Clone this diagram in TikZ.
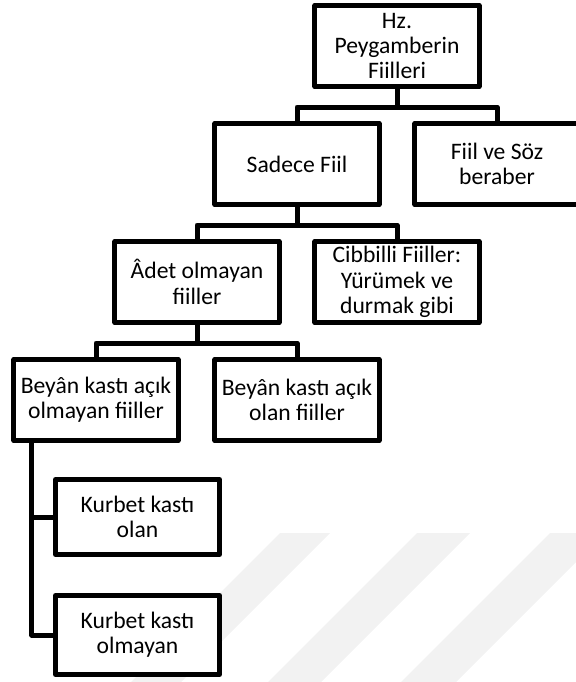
\documentclass[tikz,border=0pt]{standalone}
\usepackage{fontspec}
\setmainfont{Carlito}
\usetikzlibrary{positioning}

\begin{document}
\begin{tikzpicture}[x=0.025cm,y=-0.025cm,
  kutu/.style={draw,fill=white,line width=0.125cm,line join=round,minimum width=4.1cm,minimum height=2.025cm,inner sep=1pt,align=center,font=\fontsize{16.8}{18}\selectfont},
  bag/.style={line width=0.125cm,line join=round}]
\useasboundingbox (0,0) rectangle (576,682);
\fill[black!5] (280,533) -- (330,533) -- (181,682) -- (131,682) -- cycle;
\fill[black!5] (417,533) -- (470,533) -- (321,682) -- (268,682) -- cycle;
\fill[black!5] (550,533) -- (605,533) -- (456,682) -- (401,682) -- cycle;
\node[kutu] (hz) at (397,46) {Hz.\\Peygamberin\\Fiilleri};
\node[kutu] (sadece) at (297,164) {Sadece Fiil};
\node[kutu] (fiilsoz) at (497,164) {Fiil ve Söz\\beraber};
\node[kutu] (adet) at (197,282) {Âdet olmayan\\fiiller};
\node[kutu] (cibilli) at (397,282) {Cibbilli Fiiller:\\Yürümek ve\\durmak gibi};
\node[kutu] (beyan1) at (96,400) {Beyân kastı açık\\olmayan fiiller};
\node[kutu] (beyan2) at (297,400) {Beyân kastı açık\\olan fiiller};
\node[kutu,minimum height=1.875cm] (kurbet1) at (137.5,517) {Kurbet kastı\\olan};
\node[kutu,minimum height=1.975cm] (kurbet2) at (137.5,635) {Kurbet kastı\\olmayan};
\draw[bag] (hz.south) -- ++(0,18) -| (sadece.north);
\draw[bag] (hz.south) -- ++(0,18) -| (fiilsoz.north);
\draw[bag] (sadece.south) -- ++(0,18) -| (adet.north);
\draw[bag] (sadece.south) -- ++(0,18) -| (cibilli.north);
\draw[bag] (adet.south) -- ++(0,18) -| (beyan1.north);
\draw[bag] (adet.south) -- ++(0,18) -| (beyan2.north);
\coordinate (kb) at ([xshift=0.5125cm]beyan1.south west);
\draw[bag] (kb) |- (kurbet1.west);
\draw[bag] (kb) |- (kurbet2.west);
\end{tikzpicture}
\end{document}
